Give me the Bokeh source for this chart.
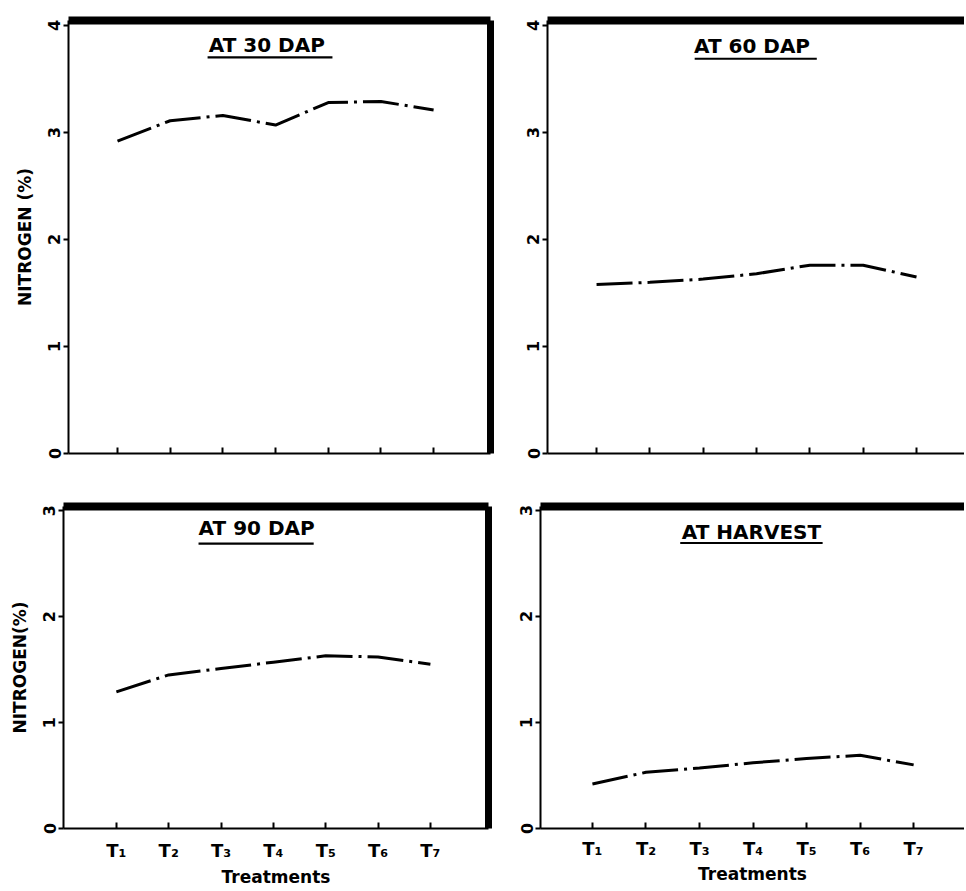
from bokeh.plotting import figure
from bokeh.layouts import column, row
from bokeh.models import LinearAxis, FixedTicker, Range1d, Label, BoxAnnotation
from bokeh.embed import file_html
from bokeh.resources import INLINE

# ---------------- data ----------------
treatments = ["T₁", "T₂", "T₃", "T₄", "T₅", "T₆", "T₇"]
n_30dap = [2.92, 3.11, 3.16, 3.07, 3.28, 3.29, 3.21]
n_60dap = [1.58, 1.60, 1.63, 1.68, 1.76, 1.76, 1.65]
n_90dap = [1.29, 1.45, 1.51, 1.57, 1.63, 1.62, 1.55]
n_harvest = [0.42, 0.53, 0.57, 0.62, 0.66, 0.69, 0.60]
titles = ["AT  30 DAP", "AT  60 DAP", "AT 90 DAP", "AT HARVEST"]
y_ticks_top = [0, 1, 2, 3, 4]
y_ticks_bottom = [0, 1, 2, 3]
x_title = "Treatments"
y_titles = ["NITROGEN (%)", "NITROGEN(%)"]

FONT = "DejaVu Sans"
xpos = [i + 1 for i in range(len(treatments))]


def panel(values, title, yticks, width, height, borders, xr, yr, ylabel,
          show_x, right_border, title_xy, uline, xstand=(10, 2)):
    l, r, t, b = borders
    p = figure(width=width, height=height, x_range=Range1d(*xr), y_range=Range1d(*yr),
               output_backend="svg", toolbar_location=None,
               min_border_left=l, min_border_right=r, min_border_top=t, min_border_bottom=b)
    p.outline_line_color = None
    p.grid.visible = False
    p.background_fill_color = "white"
    p.border_fill_color = "white"

    xa = p.xaxis[0]
    xa.ticker = FixedTicker(ticks=xpos)
    xa.axis_line_width = 2
    xa.axis_line_color = "black"
    xa.major_tick_in = 6
    xa.major_tick_out = 0
    xa.major_tick_line_width = 2
    xa.major_tick_line_color = "black"
    xa.minor_tick_line_color = None
    if show_x:
        xa.major_label_overrides = {x: t_ for x, t_ in zip(xpos, treatments)}
        xa.major_label_text_font = FONT
        xa.major_label_text_font_style = "bold"
        xa.major_label_text_font_size = "18px"
        xa.major_label_text_color = "black"
        xa.major_label_standoff = xstand[0]
        xa.axis_label = x_title
        xa.axis_label_text_font = FONT
        xa.axis_label_text_font_style = "bold"
        xa.axis_label_text_font_size = "17px"
        xa.axis_label_text_color = "black"
        xa.axis_label_standoff = xstand[1]
    else:
        xa.major_label_overrides = {x: "" for x in xpos}

    ya = p.yaxis[0]
    ya.ticker = FixedTicker(ticks=yticks)
    ya.axis_line_width = 2
    ya.axis_line_color = "black"
    ya.major_tick_in = 0
    ya.major_tick_out = 5
    ya.major_tick_line_width = 2
    ya.major_tick_line_color = "black"
    ya.minor_tick_line_color = None
    ya.major_label_orientation = "vertical"
    ya.major_label_text_font = FONT
    ya.major_label_text_font_style = "bold"
    ya.major_label_text_font_size = "16px"
    ya.major_label_text_color = "black"
    ya.major_label_standoff = 3
    if ylabel:
        ya.axis_label = ylabel
        ya.axis_label_text_font = FONT
        ya.axis_label_text_font_style = "bold"
        ya.axis_label_text_font_size = "17px"
        ya.axis_label_text_color = "black"
        ya.axis_label_standoff = 11

    top = LinearAxis(ticker=FixedTicker(ticks=[]), axis_line_width=8, axis_line_color="black",
                     major_tick_in=0, major_tick_out=0, minor_tick_line_color=None,
                     major_label_standoff=0)
    p.add_layout(top, "above")
    if right_border:
        rt = LinearAxis(ticker=FixedTicker(ticks=[]), axis_line_width=7, axis_line_color="black",
                        major_tick_in=0, major_tick_out=0, minor_tick_line_color=None,
                        major_label_standoff=0)
        p.add_layout(rt, "right")

    p.line(xpos, values, line_color="black", line_width=3, line_dash="36 6 3 6")

    p.add_layout(Label(x=title_xy[0], y=title_xy[1], text=title, text_align="center",
                       text_baseline="middle", text_font=FONT, text_font_style="bold",
                       text_font_size="20px", text_color="black"))
    p.add_layout(BoxAnnotation(left=uline[0], right=uline[1], bottom=uline[2], top=uline[3],
                               fill_color="black", fill_alpha=1.0, line_color=None))
    return p


p1 = panel(n_30dap, titles[0], y_ticks_top, 500, 478, (68, 10, 18, 25),
           (0.07, 8.08), (0, 4.047), y_titles[0], False, True,
           (3.90, 3.82), (2.71, 5.08, 3.693, 3.712))
p2 = panel(n_60dap, titles[1], y_ticks_top, 464, 478, (47, 0, 20, 24),
           (0.08, 7.90), (0, 4.047), None, False, False,
           (3.98, 3.81), (2.84, 5.13, 3.68, 3.70))
p3 = panel(n_90dap, titles[2], y_ticks_bottom, 500, 411, (63, 12, 26, 61),
           (-0.01, 8.11), (0, 3.04), y_titles[1], True, True,
           (3.68, 2.84), (2.57, 4.77, 2.68, 2.70), xstand=(11, 3))
p4 = panel(n_harvest, titles[3], y_ticks_bottom, 464, 411, (40, 0, 28, 57),
           (0.03, 7.95), (0, 3.037), None, True, False,
           (3.97, 2.795), (2.64, 5.30, 2.683, 2.702), xstand=(9, 2))

layout = column(row(p1, p2, spacing=0), row(p3, p4, spacing=0), spacing=0)
open("out.html", "w").write(file_html(layout, INLINE))
